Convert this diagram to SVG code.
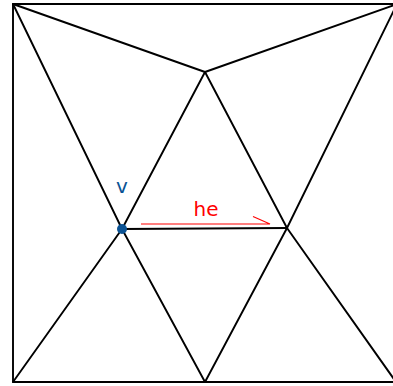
<svg xmlns="http://www.w3.org/2000/svg" width="393" height="386" viewBox="0 0 393 386">
<style>
.e{stroke:#000;stroke-width:1.9;fill:none;stroke-linecap:round;stroke-linejoin:round}
.he{stroke:#ff0000;stroke-width:1.1;fill:none}
.t{font-family:"DejaVu Sans",sans-serif;font-size:20px}
</style>
<rect width="393" height="386" fill="#fff"/>
<g id="connectors">
<path class="e" d="M13,4 L397,4 L396,382 L205,382 L13,382 Z"/>
<path class="e" d="M13,4 L205,72 L397,4"/>
<path class="e" d="M13,4 L122,229"/>
<path class="e" d="M397,4 L287,228"/>
<path class="e" d="M205,72 L122,229"/>
<path class="e" d="M205,72 L287,228"/>
<path class="e" d="M122,229 L287,228"/>
<path class="e" d="M122,229 L13,382"/>
<path class="e" d="M122,229 L205,382"/>
<path class="e" d="M287,228 L205,382"/>
<path class="e" d="M287,228 L396,382"/>
</g>
<g id="halfedge">
<path class="he" d="M141,224 L270,224 L253,216.5"/>
<text class="t" x="206" y="216" fill="#ff0000" text-anchor="middle">he</text>
</g>
<g id="v">
<circle cx="122" cy="229" r="5" fill="#0b5394"/>
<text class="t" x="122" y="193" fill="#0b5394" text-anchor="middle">v</text>
</g>
</svg>
